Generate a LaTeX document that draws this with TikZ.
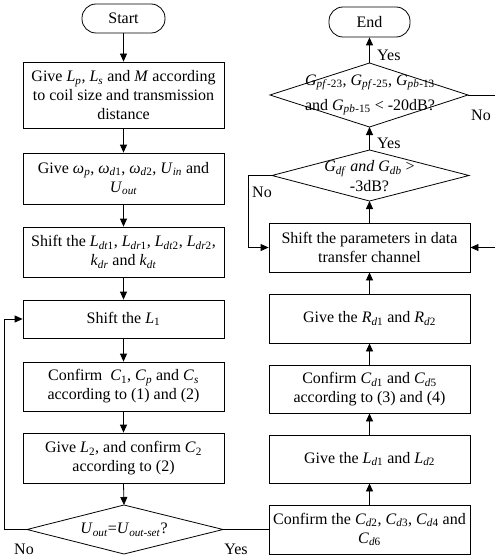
\documentclass[tikz,border=0pt]{standalone}
\usepackage{fontspec}
\setmainfont{Liberation Serif}
\usetikzlibrary{arrows.meta}
\newcommand\iv[2]{\textit{#1}\textsubscript{\textit{#2}}}
\newcommand\ivn[3]{\textit{#1}\textsubscript{\textit{#2}#3}}
\tikzset{
  txt/.style={font=\fontsize{16}{19}\selectfont},
  box/.style={txt, draw, line width=0.8pt, minimum width=201pt, align=center, inner sep=2pt},
  term/.style={txt, draw, line width=0.8pt, rounded corners=14pt, inner sep=0pt},
  flow/.style={line width=0.8pt, -{Triangle[length=8pt,width=7pt]}},
  plain/.style={line width=0.8pt},
  lbl/.style={txt, inner sep=0pt},
}
\begin{document}
\begin{tikzpicture}[x=1pt,y=-1pt]
\useasboundingbox (0,0) rectangle (495,559);

% left column
\node[term, minimum width=83pt, minimum height=29pt] (start) at (123.5,18.5) {Start};
\node[box, minimum height=66pt] (b1) at (123.5,95) {Give \iv{L}{p}, \iv{L}{s} and \textit{M} according\\to coil size and transmission\\distance};
\node[box, minimum height=51pt] (b2) at (123.5,178.5) {Give \iv{\textit{ω}}{p}, \ivn{\textit{ω}}{d}{1}, \ivn{\textit{ω}}{d}{2}, \iv{U}{in} and\\\iv{U}{out}};
\node[box, minimum height=50pt] (b3) at (123.5,252) {Shift the \ivn{L}{dt}{1}, \ivn{L}{dr}{1}, \ivn{L}{dt}{2}, \ivn{L}{dr}{2},\\\iv{k}{dr} and \iv{k}{dt}};
\node[box, minimum height=38pt] (b4) at (123.5,319) {Shift the \ivn{L}{}{1}};
\node[box, minimum height=49pt] (b5) at (123.5,386.5) {Confirm~ \ivn{C}{}{1}, \iv{C}{p} and \iv{C}{s}\\according to (1) and (2)};
\node[box, minimum height=50pt] (b6) at (123.5,458) {Give \ivn{L}{}{2}, and confirm \ivn{C}{}{2}\\according to (2)};

\coordinate (d1t) at (124,505);
\coordinate (d1b) at (124,554);
\coordinate (d1l) at (27,529.5);
\coordinate (d1r) at (223,529.5);
\draw[plain] (d1t) -- (d1r) -- (d1b) -- (d1l) -- cycle;
\node[lbl] (d1txt) at (124,529.5) {\iv{U}{out}=\iv{U}{out-set}?};

% right column
\node[term, minimum width=81pt, minimum height=30pt] (end) at (369.5,22) {End};
\node[box, minimum height=49pt] (r1) at (369.5,529.5) {Confirm the \ivn{C}{d}{2}, \ivn{C}{d}{3}, \ivn{C}{d}{4} and\\\ivn{C}{d}{6}};
\node[box, minimum height=48pt] (r2) at (369.5,459) {Give the \ivn{L}{d}{1} and \ivn{L}{d}{2}};
\node[box, minimum height=48pt] (r3) at (369.5,389) {Confirm \ivn{C}{d}{1} and \ivn{C}{d}{5}\\according to (3) and (4)};
\node[box, minimum height=49pt] (r4) at (369.5,318.5) {Give the \ivn{R}{d}{1} and \ivn{R}{d}{2}};
\node[box, minimum height=49pt] (r5) at (369.5,247.5) {Shift the parameters in data\\transfer channel};

\coordinate (d3t) at (369.5,150);
\coordinate (d3b) at (369.5,201);
\coordinate (d3l) at (272,175.5);
\coordinate (d3r) at (469,175.5);
\draw[plain] (d3t) -- (d3r) -- (d3b) -- (d3l) -- cycle;
\node[lbl, align=center, font=\fontsize{16}{20}\selectfont] (d3txt) at (369.5,176) {\iv{G}{df} \textit{and} \iv{G}{db} \textgreater\\-3dB?};

\coordinate (d2t) at (369.5,63);
\coordinate (d2b) at (369.5,127);
\coordinate (d2l) at (270,95);
\coordinate (d2r) at (468,95);
\draw[plain] (d2t) -- (d2r) -- (d2b) -- (d2l) -- cycle;
\node[lbl, align=center, font=\fontsize{16}{25}\selectfont] (d2txt) at (370,95) {\iv{G}{pf}\textsubscript{-23}, \iv{G}{pf}\textsubscript{-25}, \iv{G}{pb}\textsubscript{-13}\\and \iv{G}{pb}\textsubscript{-15} \textless{} -20dB?};

% connectors left
\draw[flow] (start) -- (b1);
\draw[flow] (b1) -- (b2);
\draw[flow] (b2) -- (b3);
\draw[flow] (b3) -- (b4);
\draw[flow] (b4) -- (b5);
\draw[flow] (b5) -- (b6);
\draw[flow] (b6.south) -- (d1t);
\coordinate (loopc) at (4,529.5);
\draw[flow] (d1l) -- (loopc) |- (b4.west);
\draw[plain] (d1r) -- (r1.west);

% connectors right
\draw[flow] (r1) -- (r2);
\draw[flow] (r2) -- (r3);
\draw[flow] (r3) -- (r4);
\draw[flow] (r4) -- (r5);
\draw[flow] (r5.north) -- (d3b);
\draw[flow] (d3t) -- (d2b);
\draw[flow] (d2t) -- (end.south);
\coordinate (d3c) at (248,175.5);
\draw[flow] (d3l) -- (d3c) |- (r5.west);
\coordinate (edgeA) at (495,95);
\coordinate (edgeB) at (495,247.5);
\draw[plain] (d2r) -- (edgeA);
\draw[flow] (edgeB) -- (r5.east);

% labels
\node[lbl, anchor=west] (y1) at (377,55) {Yes};
\node[lbl, anchor=west] (y2) at (377,143) {Yes};
\node[lbl, anchor=west] (n1) at (471,115) {No};
\node[lbl, anchor=west] (n2) at (252,192) {No};
\node[lbl] (n3) at (24,549) {No};
\node[lbl] (y3) at (236,549) {Yes};
\end{tikzpicture}
\end{document}
